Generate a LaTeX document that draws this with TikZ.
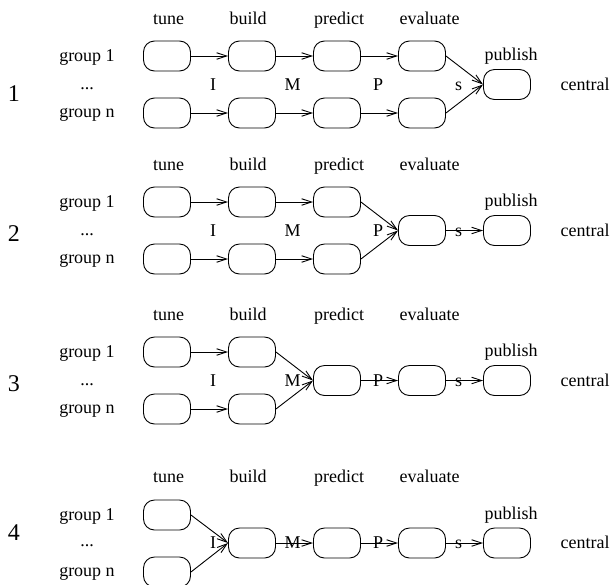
\documentclass[tikz,border=0pt]{standalone}
\usepackage{fontspec}
\setmainfont{Liberation Serif}
\usetikzlibrary{arrows.meta}
\begin{document}
\begin{tikzpicture}[x=1pt,y=-1pt,
  stagebox/.style={draw,line width=0.9pt,rounded corners=11pt,minimum width=47pt,minimum height=30pt,inner sep=0pt},
  txt/.style={anchor=base,inner sep=0pt,font=\fontsize{18}{20}\selectfont},
  numlbl/.style={anchor=base,inner sep=0pt,font=\fontsize{24}{26}\selectfont},
  flow/.style={line width=0.9pt,-{Straight Barb[length=10pt,width=6.5pt]}}]
\useasboundingbox (0,0) rectangle (612,584);

% ---------- scheme 1: everything in the groups, publish centrally ----------
\node[txt] (h1a) at (168.5,24) {tune};
\node[txt] (h1b) at (248,24) {build};
\node[txt] (h1c) at (339,24) {predict};
\node[txt] (h1d) at (429.5,24) {evaluate};
\node[txt] (h1e) at (511,60.5) {publish};
\node[txt] (g1a) at (87,61.5) {group 1};
\node[txt] (g1b) at (87,89.5) {...};
\node[txt] (g1n) at (87,117) {group n};
\node[numlbl] (n1) at (14,101) {1};
\node[txt] (c1) at (585,90) {central};
\node[stagebox] (p1a1) at (167,56) {};
\node[stagebox] (p1b1) at (252,56) {};
\node[stagebox] (p1c1) at (337,56) {};
\node[stagebox] (p1d1) at (422,56) {};
\node[stagebox] (p1an) at (167,113) {};
\node[stagebox] (p1bn) at (252,113) {};
\node[stagebox] (p1cn) at (337,113) {};
\node[stagebox] (p1dn) at (422,113) {};
\node[stagebox] (p1e) at (507,84.5) {};
\draw[flow] (p1a1) -- (p1b1);
\draw[flow] (p1b1) -- (p1c1);
\draw[flow] (p1c1) -- (p1d1);
\draw[flow] (p1an) -- (p1bn);
\draw[flow] (p1bn) -- (p1cn);
\draw[flow] (p1cn) -- (p1dn);
\draw[flow] (p1d1.east) -- (p1e.west);
\draw[flow] (p1dn.east) -- (p1e.west);
\node[txt] (l1i) at (213,90) {I};
\node[txt] (l1m) at (292.5,90) {M};
\node[txt] (l1p) at (378,90) {P};
\node[txt] (l1s) at (458.5,90) {s};

% ---------- scheme 2: evaluation moved to the centre ----------
\node[txt] (h2a) at (168.5,170) {tune};
\node[txt] (h2b) at (248,170) {build};
\node[txt] (h2c) at (339,170) {predict};
\node[txt] (h2d) at (429.5,170) {evaluate};
\node[txt] (h2e) at (511,206.5) {publish};
\node[txt] (g2a) at (87,207.5) {group 1};
\node[txt] (g2b) at (87,235.5) {...};
\node[txt] (g2n) at (87,263) {group n};
\node[numlbl] (n2) at (14,241) {2};
\node[txt] (c2) at (585,236) {central};
\node[stagebox] (p2a1) at (167,202) {};
\node[stagebox] (p2b1) at (252,202) {};
\node[stagebox] (p2c1) at (337,202) {};
\node[stagebox] (p2an) at (167,259) {};
\node[stagebox] (p2bn) at (252,259) {};
\node[stagebox] (p2cn) at (337,259) {};
\node[stagebox] (p2d) at (422,230.5) {};
\node[stagebox] (p2e) at (507,230.5) {};
\draw[flow] (p2a1) -- (p2b1);
\draw[flow] (p2b1) -- (p2c1);
\draw[flow] (p2an) -- (p2bn);
\draw[flow] (p2bn) -- (p2cn);
\draw[flow] (p2c1.east) -- (p2d.west);
\draw[flow] (p2cn.east) -- (p2d.west);
\draw[flow] (p2d) -- (p2e);
\node[txt] (l2i) at (213,236) {I};
\node[txt] (l2m) at (292.5,236) {M};
\node[txt] (l2p) at (378,236) {P};
\node[txt] (l2s) at (458.5,236) {s};

% ---------- scheme 3: prediction moved to the centre ----------
\node[txt] (h3a) at (168.5,320) {tune};
\node[txt] (h3b) at (248,320) {build};
\node[txt] (h3c) at (339,320) {predict};
\node[txt] (h3d) at (429.5,320) {evaluate};
\node[txt] (h3e) at (511,356.5) {publish};
\node[txt] (g3a) at (87,357.5) {group 1};
\node[txt] (g3b) at (87,385.5) {...};
\node[txt] (g3n) at (87,413) {group n};
\node[numlbl] (n3) at (14,391) {3};
\node[txt] (c3) at (585,386) {central};
\node[stagebox] (p3a1) at (167,352) {};
\node[stagebox] (p3b1) at (252,352) {};
\node[stagebox] (p3an) at (167,409) {};
\node[stagebox] (p3bn) at (252,409) {};
\node[stagebox] (p3c) at (337,380.5) {};
\node[stagebox] (p3d) at (422,380.5) {};
\node[stagebox] (p3e) at (507,380.5) {};
\draw[flow] (p3a1) -- (p3b1);
\draw[flow] (p3an) -- (p3bn);
\draw[flow] (p3b1.east) -- (p3c.west);
\draw[flow] (p3bn.east) -- (p3c.west);
\draw[flow] (p3c) -- (p3d);
\draw[flow] (p3d) -- (p3e);
\node[txt] (l3i) at (213,386) {I};
\node[txt] (l3m) at (292.5,386) {M};
\node[txt] (l3p) at (378,386) {P};
\node[txt] (l3s) at (458.5,386) {s};

% ---------- scheme 4: only tuning stays in the groups ----------
\node[txt] (h4a) at (168.5,482) {tune};
\node[txt] (h4b) at (248,482) {build};
\node[txt] (h4c) at (339,482) {predict};
\node[txt] (h4d) at (429.5,482) {evaluate};
\node[txt] (h4e) at (511,519.5) {publish};
\node[txt] (g4a) at (87,520.5) {group 1};
\node[txt] (g4b) at (87,546) {...};
\node[txt] (g4n) at (87,576) {group n};
\node[numlbl] (n4) at (14,540) {4};
\node[txt] (c4) at (585,548.5) {central};
\node[stagebox] (p4a1) at (167,515) {};
\node[stagebox] (p4an) at (167,572) {};
\node[stagebox] (p4b) at (252,543) {};
\node[stagebox] (p4c) at (337,543) {};
\node[stagebox] (p4d) at (422,543) {};
\node[stagebox] (p4e) at (507,543) {};
\draw[flow] (p4a1.east) -- (p4b.west);
\draw[flow] (p4an.east) -- (p4b.west);
\draw[flow] (p4b) -- (p4c);
\draw[flow] (p4c) -- (p4d);
\draw[flow] (p4d) -- (p4e);
\node[txt] (l4i) at (213,548.5) {I};
\node[txt] (l4m) at (292.5,548.5) {M};
\node[txt] (l4p) at (378,548.5) {P};
\node[txt] (l4s) at (458.5,548.5) {s};
\end{tikzpicture}
\end{document}
